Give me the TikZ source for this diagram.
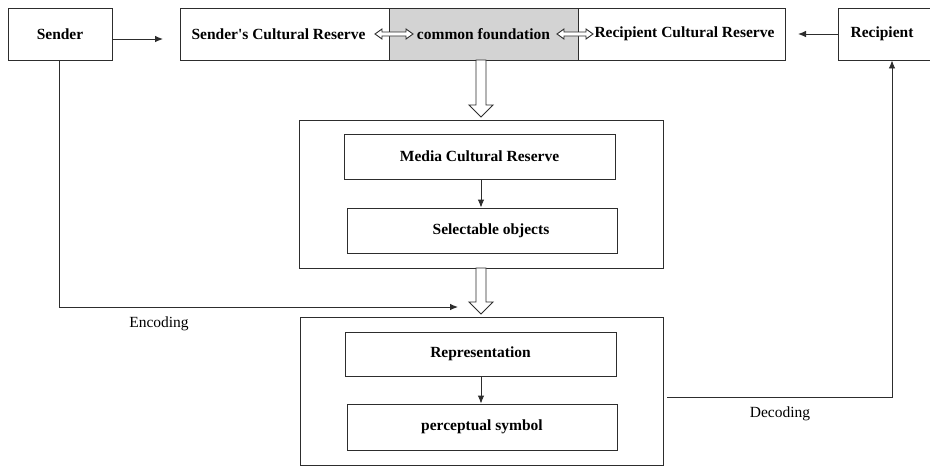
\documentclass[tikz,border=0pt]{standalone}
\usepackage{fontspec}
\setmainfont{Liberation Serif}
\usetikzlibrary{arrows.meta,calc}
\definecolor{lgray}{RGB}{211,211,211}
\definecolor{ln}{RGB}{45,45,45}
\tikzset{
  box/.style={draw=ln, line width=0.9pt, rectangle, inner sep=0pt, font=\fontsize{15.5}{18}\selectfont\bfseries},
  plain/.style={font=\fontsize{15.5}{18}\selectfont, inner sep=0pt},
  conn/.style={draw=ln, line width=0.9pt, -{Latex[length=8pt,width=6.5pt]}},
  line/.style={draw=ln, line width=0.9pt},
  hollow/.style={draw=ln, line width=0.9pt, fill=white, line join=miter}
}
\begin{document}
\begin{tikzpicture}[x=1pt,y=-1pt]
\useasboundingbox[fill=white] (0,0) rectangle (930,467);
% top row
\node[box, minimum width=104pt, minimum height=52pt] (sender) at (60,34) {Sender};
\node[box, minimum width=209pt, minimum height=52pt] (sres) at (284.5,34) {Sender\textquotesingle s Cultural Reserve\hspace*{12pt}};
\node[box, fill=lgray, minimum width=189pt, minimum height=52pt] (common) at (483.5,34) {common foundation};
\node[box, minimum width=207pt, minimum height=52pt] (rres) at (681.5,34) {\hspace*{6pt}Recipient Cultural Reserve};
\node[box, minimum width=96pt, minimum height=52pt] (recip) at (886,34) {Recipient\hspace*{8pt}};
% middle group
\node[box, minimum width=364pt, minimum height=148pt] (mid) at (481,194) {};
\node[box, minimum width=271pt, minimum height=45pt] (media) at (479.5,156.5) {Media Cultural Reserve};
\node[box, minimum width=270pt, minimum height=45pt] (selob) at (482,230.5) {\hspace*{18pt}Selectable objects};
% bottom group
\node[box, minimum width=363pt, minimum height=148pt] (bot) at (481.5,391) {};
\node[box, minimum width=271pt, minimum height=44pt] (repr) at (480.5,354) {Representation};
\node[box, minimum width=270pt, minimum height=46pt] (perc) at (482,427) {perceptual symbol};
% labels
\node[plain] (enc) at (159,324) {Encoding};
\node[plain] (dec) at (780,414) {Decoding};
% coordinates
\coordinate (sendtip) at (163,39);
\coordinate (rectip) at (798,34);
\coordinate (enctip) at (458,307);
\coordinate (decstart) at (667,397);
% simple connectors
\draw[conn] ([yshift=-5pt]sender.east) -- (sendtip);
\draw[conn] (recip.west |- rectip) -- (rectip);
\draw[conn] (media.south -| 481,0) -- (selob.north -| 481,0);
\draw[conn] (repr.south -| 481,0) -- (perc.north -| 481,0);
\draw[conn] (sender.south -| 59,0) -- (59,307) -- (enctip);
\draw[conn] (decstart) -- (892,397) -- (recip.south -| 892,0);
% hollow double arrows
\draw[hollow] (375,34) -- (382,29) -- (382,32) -- (406,32) -- (406,29) -- (413,34) -- (406,39) -- (406,36) -- (382,36) -- (382,39) -- cycle;
\draw[hollow] (557,34) -- (564,29) -- (564,32) -- (586,32) -- (586,29) -- (593,34) -- (586,39) -- (586,36) -- (564,36) -- (564,39) -- cycle;
% hollow down arrows
\draw[hollow] (476,60) -- (476,105) -- (469,105) -- (481,117) -- (493,105) -- (486,105) -- (486,60) -- cycle;
\draw[hollow] (476,268) -- (476,302) -- (469,302) -- (481,314) -- (493,302) -- (486,302) -- (486,268) -- cycle;
\end{tikzpicture}
\end{document}
